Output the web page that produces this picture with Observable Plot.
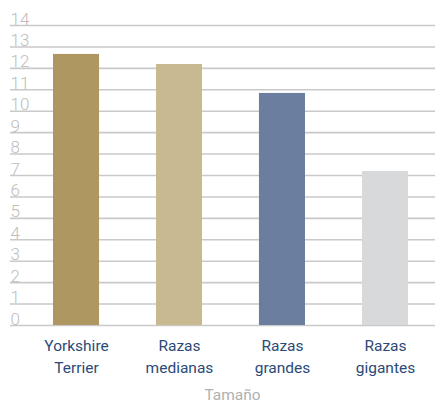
<!DOCTYPE html>
<html>
<head>
<meta charset="utf-8">
<script src="https://cdn.jsdelivr.net/npm/d3@7"></script>
<script src="https://cdn.jsdelivr.net/npm/@observablehq/plot@0.6"></script>
<style>
  html, body { margin: 0; padding: 0; background: #fff; }
</style>
</head>
<body>
<div id="chart"></div>
<script>
const categories = ["Yorkshire Terrier", "Razas medianas", "Razas grandes", "Razas gigantes"];
const values = [12.65, 12.18, 10.83, 7.19];
const colors = ["#ae9760", "#c8b991", "#6c7ea0", "#d8d9db"];
const yTicks = [0, 1, 2, 3, 4, 5, 6, 7, 8, 9, 10, 11, 12, 13, 14];
const xTitle = "Tamaño";

const data = categories.map((c, i) => ({category: c, value: values[i], color: colors[i]}));

const chart = Plot.plot({
  width: 435,
  height: 405,
  marginLeft: 10,
  marginRight: 0,
  marginTop: 25,
  marginBottom: 80,
  style: {fontFamily: "Roboto, 'DejaVu Sans', sans-serif", background: "#fff"},
  x: {
    domain: categories,
    paddingInner: 0.553,
    paddingOuter: 0.34,
    align: 0.614,
    round: false
  },
  y: {domain: [0, 14], axis: null},
  marks: [
    Plot.ruleY(yTicks, {stroke: "#c9c9c9", strokeWidth: 1.6}),
    Plot.text(yTicks, {
      y: d => d,
      frameAnchor: "left",
      textAnchor: "start",
      lineAnchor: "bottom",
      dy: -1,
      dx: 0,
      text: d => String(d),
      fill: "#bdbdbd",
      fontSize: 17,
      fontWeight: 300
    }),
    Plot.barY(data, {x: "category", y: "value", fill: "color"}),
    Plot.axisX({
      tickSize: 0,
      tickPadding: 10,
      tickFormat: d => d.replace(" ", "\n"),
      fontSize: 15.5,
      lineHeight: 1.4,
      color: "#2b4a78",
      label: null
    }),
    Plot.text([xTitle], {
      frameAnchor: "bottom",
      dx: 9.5,
      dy: 70,
      lineAnchor: "middle",
      fill: "#b0b0b0",
      fontSize: 15.5
    })
  ]
});
document.getElementById("chart").appendChild(chart);
</script>
</body>
</html>
